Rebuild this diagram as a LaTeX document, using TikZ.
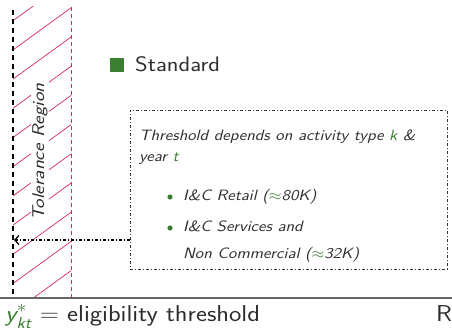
\documentclass[tikz,border=0pt]{standalone}
\usetikzlibrary{arrows.meta}
\renewcommand\familydefault{\sfdefault}
\definecolor{sgreen}{RGB}{58,128,48}
\definecolor{hatchred}{RGB}{214,40,90}
\definecolor{txt}{RGB}{45,45,45}
\newcommand{\hsc}[2]{\scalebox{#1}[1]{#2}}
\tikzset{
  boxtxt/.style={anchor=base west, inner sep=0pt, font=\fontsize{15}{17}\selectfont\itshape, text=txt},
  dashdot/.style={dash pattern=on 3pt off 2pt on 1pt off 2pt, line width=0.8pt},
}
\begin{document}
\begin{tikzpicture}[x=1pt,y=1pt]
\useasboundingbox (0,0) rectangle (452,329);
% hatch
\begin{scope}
\clip (13,31) rectangle (71,322);
\foreach \i in {-2,...,12}{
  \draw[hatchred, line width=0.7pt] (-7,{308.3-29.2*\i-14.5}) -- (91,{308.3-29.2*\i+56.5});
}
\end{scope}
\node[rotate=90, fill=white, inner sep=1pt, font=\fontsize{17}{19}\selectfont\itshape, text=txt] (tol) at (40,177) {\hsc{1.2}{Tolerance Region}};
\coordinate (bt) at (13,319);
\coordinate (bb) at (13,31);
\coordinate (rt) at (71,322);
\coordinate (rb) at (71,31);
\draw[hatchred, line width=0.7pt, dash pattern=on 4pt off 3pt] (rt) -- (rb);
\draw[black, line width=1.6pt, dash pattern=on 5pt off 4pt] (bt) -- (bb);
% axis
\coordinate (al) at (0,31);
\coordinate (ar) at (452,31);
\draw[gray!80!black, line width=1.2pt] (al) -- (ar);
% legend
\node[fill=sgreen, minimum size=14pt, inner sep=0pt, anchor=south west] (sq) at (110,257) {};
\node[anchor=base west, inner sep=0pt, font=\fontsize{21}{23}\selectfont, text=txt] (std) at (135,257) {\hsc{1.15}{Standard}};
% box
\node[draw=black!80, dashdot, minimum width=317pt, minimum height=159pt, anchor=north west, inner sep=0pt] (box) at (130,219) {};
\node[boxtxt] (l1) at (139,188) {\hsc{1.14}{Threshold depends on activity type \textcolor{sgreen}{k} \&}};
\node[boxtxt] (l2) at (139,167) {\hsc{1.14}{year \textcolor{sgreen}{t}}};
\node[boxtxt] (b1) at (183,128) {\hsc{1.14}{I\&C Retail (\textcolor{sgreen}{$\approx$}80K)}};
\node[boxtxt] (b2) at (183,97) {\hsc{1.14}{I\&C Services and}};
\node[boxtxt] (b3) at (183,70) {\hsc{1.14}{Non Commercial (\textcolor{sgreen}{$\approx$}32K)}};
\fill[sgreen] (170,132) circle (2.6pt);
\fill[sgreen] (170,101) circle (2.6pt);
% arrow
\coordinate (ae) at (14,89);
\draw[dashdot, line width=1.3pt, -{Straight Barb[length=4pt,width=9pt]}] (box.west |- ae) -- (ae);
% bottom text
\node[anchor=base west, inner sep=0pt, font=\fontsize{23}{25}\selectfont, text=txt] (def) at (5,7) {\hsc{1.14}{\textcolor{sgreen}{\itshape y$^{*}_{\mbox{\fontsize{16}{17}\selectfont\itshape kt}}$} = eligibility threshold}};
\node[anchor=base west, inner sep=0pt, font=\fontsize{23}{25}\selectfont, text=txt] (re) at (436,7) {\hsc{1.14}{Re}};
\end{tikzpicture}
\end{document}
